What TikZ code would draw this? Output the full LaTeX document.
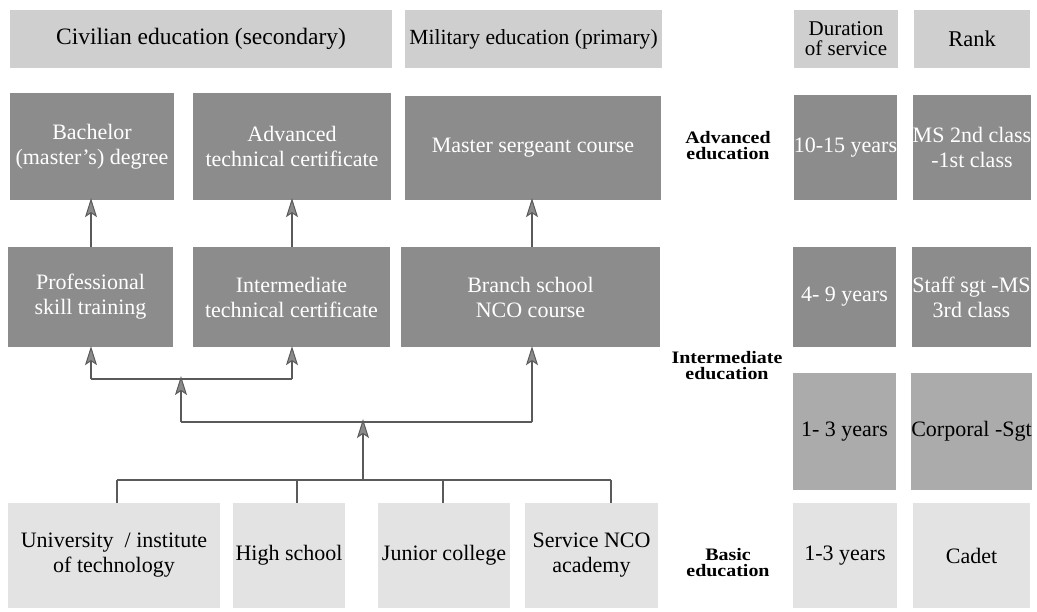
\documentclass[tikz,border=0pt]{standalone}
\usepackage{fontspec}
\setmainfont{Liberation Serif}
\newfontfamily\labfont{Liberation Serif}[FakeStretch=1.14]
\usetikzlibrary{arrows.meta}
\definecolor{hdr}{HTML}{CFCFCF}
\definecolor{dark}{HTML}{8C8C8C}
\definecolor{mid}{HTML}{ABABAB}
\definecolor{light}{HTML}{E3E3E3}
\definecolor{ln}{HTML}{5A5A5A}
\definecolor{tipc}{HTML}{8A8A8A}
\tikzset{
  bx/.style={inner sep=0pt, align=center, font=\fontsize{22}{25}\selectfont},
  hdrbox/.style={bx, fill=hdr, text=black, font=\fontsize{22.5}{19}\selectfont},
  darkbox/.style={bx, fill=dark, text=white},
  midbox/.style={bx, fill=mid, text=black},
  lightbox/.style={bx, fill=light, text=black},
  lab/.style={align=center, font=\labfont\bfseries\fontsize{17.5}{16}\selectfont},
  conn/.style={draw=ln, line width=1.5pt},
  arr/.style={conn, -{Stealth[length=19pt,width=12pt,inset=4pt,fill=tipc,line width=1pt]}},
}
\newcommand{\bxn}[7]{\node[#6, minimum width={(#4)-(#2)}, minimum height={(#5)-(#3)}] (#1) at ({((#2)+(#4))/2},{((#3)+(#5))/2}) {#7};}
\begin{document}
\begin{tikzpicture}[x=1pt,y=-1pt]
\useasboundingbox (0,0) rectangle (1037,611);
% headers
\bxn{civ}{10}{10}{392}{68}{hdrbox, font=\fontsize{23.5}{19}\selectfont}{Civilian education (secondary)}
\bxn{mil}{405}{10}{662}{68}{hdrbox, font=\fontsize{21.6}{19}\selectfont}{Military education (primary)}
\bxn{dur}{794}{10}{898}{68}{hdrbox, font=\fontsize{21}{20}\selectfont}{Duration\\of service}
\bxn{rank}{914}{10}{1030}{68}{hdrbox}{Rank}
% advanced row
\bxn{bach}{10}{93}{174}{200}{darkbox}{Bachelor\\(master's) degree}
\bxn{adv}{193}{93}{391}{200}{darkbox}{Advanced\\technical certificate}
\bxn{mast}{405}{96}{661}{200}{darkbox}{Master sergeant course}
\bxn{d1}{794}{95}{897}{200}{darkbox}{10-15 years}
\bxn{r1}{914}{95}{1030}{200}{darkbox}{MS 2nd class\\-1st class}
% intermediate row
\bxn{prof}{8}{247}{173}{347}{darkbox}{Professional\\skill training}
\bxn{inter}{193}{247}{390}{347}{darkbox}{Intermediate\\technical certificate}
\bxn{branch}{401}{247}{660}{347}{darkbox}{Branch school\\NCO course}
\bxn{d2}{793}{247}{896}{347}{darkbox}{4- 9 years}
\bxn{r2}{913}{247}{1030}{347}{darkbox}{Staff sgt -MS\\3rd class}
\bxn{d3}{793}{373}{896}{490}{midbox}{1- 3 years}
\bxn{r3}{913}{373}{1030}{490}{midbox}{Corporal -Sgt}
% basic row
\bxn{univ}{8}{503}{220}{608}{lightbox}{University \ / institute\\of technology}
\bxn{high}{233}{503}{345}{608}{lightbox}{High school}
\bxn{junior}{378}{503}{510}{608}{lightbox}{Junior college}
\bxn{svc}{525}{503}{658}{608}{lightbox}{Service NCO\\academy}
\bxn{d4}{793}{503}{897}{608}{lightbox}{1-3 years}
\bxn{r4}{913}{503}{1030}{608}{lightbox}{Cadet}
% level labels
\node[lab] (ladv) at (728,146) {Advanced\\education};
\node[lab] (lint) at (727,366) {Intermediate\\education};
\node[lab] (lbas) at (728,563) {Basic\\education};
% connectors bottom
\coordinate (cu) at (117,480);
\coordinate (ch) at (297,480);
\coordinate (cj) at (443,480);
\coordinate (cs) at (611,480);
\coordinate (cm) at (363,480);
\draw[conn] (cu) -- (cs);
\draw[conn] (cu) -- (cu |- univ.north);
\draw[conn] (ch) -- (ch |- high.north);
\draw[conn] (cj) -- (cj |- junior.north);
\draw[conn] (cs) -- (cs |- svc.north);
% middle bus
\coordinate (bl) at (181,422);
\coordinate (br) at (532,422);
\draw[conn] (bl) -- (br);
\draw[arr] (cm) -- ([yshift=3pt]cm |- bl);
% upper bus
\coordinate (ul) at (91,379);
\coordinate (ur) at (292,379);
\draw[conn] (ul) -- (ur);
\draw[arr] (bl) -- ([yshift=3pt]bl |- ul);
\draw[arr] (br) -- ([yshift=1pt]br |- branch.south);
\draw[arr] (ul) -- ([yshift=1pt]ul |- prof.south);
\draw[arr] (ur) -- ([yshift=1pt]ur |- inter.south);
% advanced arrows
\coordinate (a1) at (91,247);
\coordinate (a2) at (292,247);
\coordinate (a3) at (532,247);
\draw[arr] (a1) -- ([yshift=2pt]a1 |- bach.south);
\draw[arr] (a2) -- ([yshift=2pt]a2 |- adv.south);
\draw[arr] (a3) -- ([yshift=2pt]a3 |- mast.south);
\end{tikzpicture}
\end{document}
